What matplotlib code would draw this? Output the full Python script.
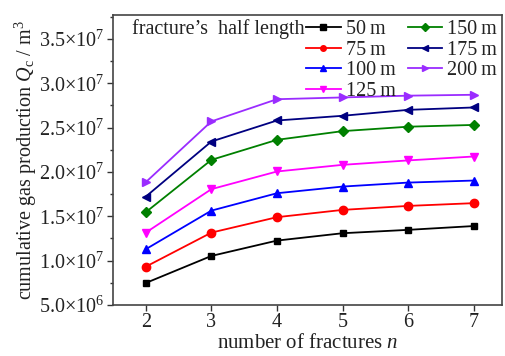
import matplotlib
matplotlib.use("Agg")
import matplotlib.pyplot as plt
from matplotlib.ticker import FuncFormatter, MultipleLocator

plt.rcParams['font.family'] = ['Liberation Serif', 'DejaVu Serif']
plt.rcParams['mathtext.fontset'] = 'custom'
plt.rcParams['mathtext.rm'] = 'Liberation Serif'
plt.rcParams['mathtext.it'] = 'Liberation Serif:italic'

n_fractures = [2, 3, 4, 5, 6, 7]
labels = ["50\u2009m", "75\u2009m", "100\u2009m", "125\u2009m", "150\u2009m", "175\u2009m", "200\u2009m"]
q_50 = [7.48e6, 1.053e7, 1.226e7, 1.309e7, 1.347e7, 1.39e7]
q_75 = [9.32e6, 1.316e7, 1.49e7, 1.572e7, 1.617e7, 1.648e7]
q_100 = [1.129e7, 1.564e7, 1.76e7, 1.835e7, 1.88e7, 1.903e7]
q_125 = [1.316e7, 1.806e7, 2.005e7, 2.08e7, 2.13e7, 2.174e7]
q_150 = [1.546e7, 2.136e7, 2.362e7, 2.46e7, 2.51e7, 2.53e7]
q_175 = [1.722e7, 2.343e7, 2.58e7, 2.633e7, 2.70e7, 2.727e7]
q_200 = [1.885e7, 2.57e7, 2.82e7, 2.84e7, 2.86e7, 2.87e7]
series = [q_50, q_75, q_100, q_125, q_150, q_175, q_200]
yticks = [5e6, 1e7, 1.5e7, 2e7, 2.5e7, 3e7, 3.5e7]

colors = ['black', '#ff0000', '#0000ff', '#ff00ff', '#008000', '#000080', '#9a2cff']
markers = ['s', 'o', '^', 'v', 'D', '<', '>']
msizes = [5, 6, 6, 6, 5, 6, 6]

fig = plt.figure(figsize=(5.05, 3.56), dpi=100)
ax = fig.add_axes([0.2238, 0.1433, 0.770, 0.8147])

for ys, lab, c, m, ms in zip(series, labels, colors, markers, msizes):
    ax.plot(n_fractures, ys, color=c, marker=m, markersize=ms, lw=1.3, label=lab)

ax.set_xlim(1.5, 7.43)
ax.set_ylim(5e6, 3.77e7)
ax.set_xticks(n_fractures)
ax.set_yticks(yticks)
ax.yaxis.set_minor_locator(MultipleLocator(2.5e6))

def fmt(v, pos):
    e = 0
    m = v
    while m >= 10:
        m /= 10
        e += 1
    return "%.1f\u00d710$^{%d}$" % (m, e)

ax.yaxis.set_major_formatter(FuncFormatter(fmt))
ax.tick_params(axis='both', which='both', direction='out', labelsize=14.5, colors='#333333', labelcolor='#222222', width=1)
ax.tick_params(axis='both', which='major', length=4, pad=2)
ax.tick_params(axis='y', which='minor', length=2.5)
ax.tick_params(top=False, right=False)
for sp in ax.spines.values():
    sp.set_color('#444444')
    sp.set_linewidth(1.2)

ax.set_xlabel(r"number of fractures $n$", fontsize=15, color='#222222', labelpad=1)
ax.set_ylabel(r"cumulative gas production $Q_{\mathrm{c}}$ / m$^3$", fontsize=14.5, color='#222222', labelpad=0)

ax.text(0.049, 0.952, "fracture\u2019s  half length", transform=ax.transAxes, fontsize=14.5,
        color='#222222', va='center', ha='left')
leg = ax.legend(ncol=2, loc='upper left', bbox_to_anchor=(0.497, 0.982), frameon=False,
                fontsize=14.5, handlelength=1.7, handletextpad=0.25, columnspacing=0.6,
                labelspacing=0.07, borderpad=0, borderaxespad=0)
for t in leg.get_texts():
    t.set_color('#222222')
for h in leg.legend_handles:
    h.set_markersize(4)

fig.savefig("out.png", dpi=100)
